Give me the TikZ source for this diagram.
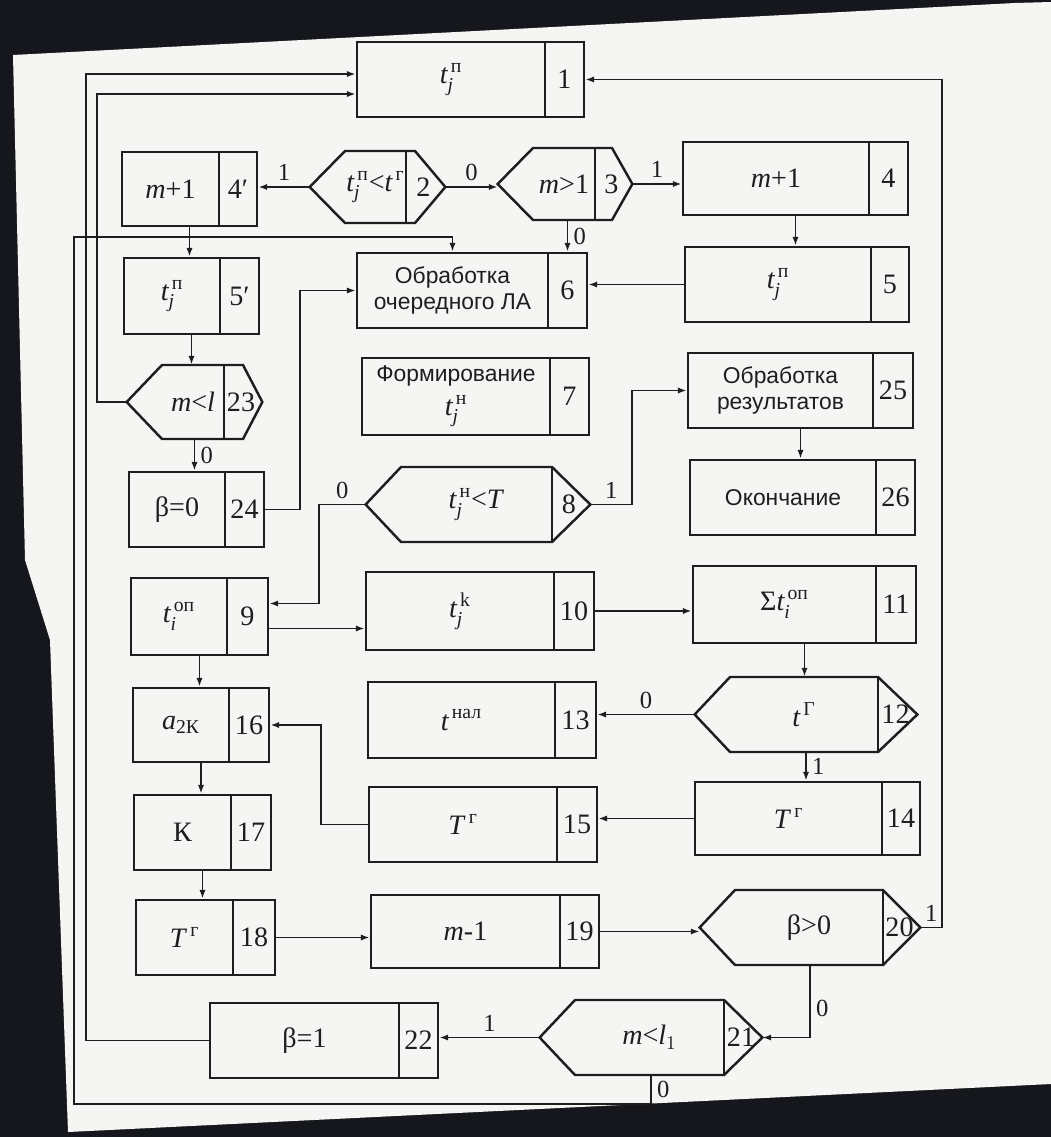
\documentclass[tikz,border=0pt]{standalone}
\usepackage{amsmath}
\usepackage{fontspec}
\setmainfont{Liberation Serif}
\setsansfont{Liberation Sans}
\usetikzlibrary{arrows.meta,fit,calc}

\definecolor{ink}{HTML}{1E1E1E}
\definecolor{paper}{HTML}{F5F5F3}
\definecolor{desk}{HTML}{15171C}

\tikzset{
  blk/.style={draw=ink, line width=1.4pt, inner sep=0pt},
  arr/.style={draw=ink, line width=1.1pt, -{Latex[length=5pt,width=3.5pt]}},
  txt/.style={font=\fontsize{16}{18}\selectfont, text=ink, align=center, inner sep=1pt},
  num/.style={font=\fontsize{16}{18}\selectfont, text=ink, inner sep=1pt},
  lbl/.style={font=\fontsize{14}{16}\selectfont, text=ink, inner sep=3pt},
}

\newcommand\ru{\sffamily\fontsize{13}{15}\selectfont}
\newcommand\tj[1]{$\textit{t}_{\textit{j}}^{\,\text{#1}}$}

% rectangular block: name, x1, y1, x2, y2, divider, text, number
\newcommand\blk[8]{%
  \node[blk, fit={(#2,#3) (#4,#5)}] (#1) {};
  \draw[blk] (#6,#3) -- (#6,#5);
  \node[txt] (#1-t) at ({(#2+#6)/2},{(#3+#5)/2}) {#7};
  \node[num] (#1-n) at ({(#6+#4)/2},{(#3+#5)/2}) {#8};}

% decision block: name, left tip, divider, top right, right tip, top, bottom, text, number
\newcommand\hexa[9]{%
  \node[fit={(#2,#6) (#5,#7)}, inner sep=0pt] (#1) {};
  \draw[blk] (#1.west) -- ({#2+35},#6) -- (#4,#6) -- (#1.east) -- (#4,#7) -- ({#2+35},#7) -- cycle;
  \draw[blk] (#3,#6) -- (#3,#7);
  \node[txt] (#1-t) at ({(#2+35+#3)/2},{(#6+#7)/2}) {#8};
  \node[num] (#1-n) at ({(#3+#5)/2-2},{(#6+#7)/2}) {#9};}

\begin{document}
\begin{tikzpicture}[x=0.2mm, y=-0.2mm]
  \useasboundingbox (0,0) rectangle (1051,1137);
  % photo background
  \fill[desk] (0,0) rectangle (1051,1137);
  \fill[paper] (13,55) -- (1015,3) -- (1051,2) -- (1051,1084) -- (68,1132) -- (50,640) -- (25,560) -- cycle;

  % left column
  \blk{b4p}{122}{152}{257}{226}{219}{\textit{m}+1}{4′}
  \blk{b5p}{124}{258}{259}{334}{220}{\tj{п}}{5′}
  \hexa{h23}{127}{224}{243}{262}{365}{439}{\textit{m}<\textit{l}}{23}
  \blk{b24}{129}{472}{264}{547}{225}{β=0}{24}
  \blk{b9}{131}{578}{268}{655}{227}{$\textit{t}_{\textit{i}}^{\,\text{оп}}$}{9}
  \blk{b16}{133}{688}{269}{762}{229}{\textit{a}$_{\text{2К}}$}{16}
  \blk{b17}{134}{795}{271}{870}{231}{К}{17}
  \blk{b18}{136}{900}{275}{975}{233}{\textit{T}$^{\,\text{г}}$}{18}

  % middle column
  \blk{b1}{357}{42}{584}{117}{545}{\tj{п}}{1}
  \hexa{h2}{310}{406}{415}{445}{151}{223}{\tj{п}<$\textit{t}^{\,\text{г}}$}{2}
  \hexa{h3}{498}{595}{612}{632}{148}{220}{\textit{m}>1}{3}
  \blk{b6}{357}{253}{587}{328}{548}{{\ru Обработка}\\[-3pt]{\ru очередного ЛА}}{6}
  \blk{b7}{362}{358}{589}{435}{550}{{\ru Формирование}\\[1pt]\tj{н}}{7}
  \hexa{h8}{366}{552}{552}{590}{467}{542}{\tj{н}<\textit{T}}{8}
  \blk{b10}{366}{572}{594}{650}{554}{$\textit{t}_{\textit{j}}^{\,\text{k}}$}{10}
  \blk{b13}{368}{682}{596}{758}{555}{$\textit{t}^{\,\text{нал}}$}{13}
  \blk{b15}{369}{787}{597}{862}{557}{\textit{T}$^{\,\text{г}}$}{15}
  \blk{b19}{371}{895}{599}{968}{560}{\textit{m}-1}{19}
  \blk{b22}{210}{1003}{438}{1078}{399}{β=1}{22}
  \hexa{h21}{540}{724}{724}{762}{1000}{1075}{\textit{m}<\textit{l}$_{1}$}{21}

  % right column
  \blk{b4}{683}{142}{908}{215}{869}{\textit{m}+1}{4}
  \blk{b5}{685}{247}{909}{322}{871}{\tj{п}}{5}
  \blk{b25}{688}{353}{913}{428}{873}{{\ru Обработка}\\[-3pt]{\ru результатов}}{25}
  \blk{b26}{690}{460}{915}{535}{876}{{\ru Окончание}}{26}
  \blk{b11}{693}{566}{916}{643}{876}{Σ$\textit{t}_{\textit{i}}^{\,\text{оп}}$}{11}
  \hexa{h12}{695}{878}{878}{917}{677}{752}{$\textit{t}^{\,\text{Г}}$}{12}
  \blk{b14}{695}{782}{920}{855}{882}{\textit{T}$^{\,\text{г}}$}{14}
  \hexa{h20}{700}{883}{883}{920}{890}{965}{β>0}{20}

  % connections, top part
  \draw[arr] (h2.west) -- node[lbl,above] {1} (h2.west -| b4p.east);
  \draw[arr] (h2.east) -- node[lbl,above] {0} (h2.east -| h3.west);
  \draw[arr] (h3.east) -- node[lbl,above] {1} (h3.east -| b4.west);
  \draw[arr] (h3.south -| b6-n) -- node[lbl,right] {0} (b6.north -| b6-n);
  \draw[arr] (b4.south) -- (b4.south |- b5.north);
  \draw[arr] (b5.west) -- (b5.west -| b6.east);
  \draw[arr] (b4p.south) -- (b4p.south |- b5p.north);
  \draw[arr] (b5p.south) -- (b5p.south |- h23.north);
  \draw[arr] (h23.south) -- node[lbl,right] {0} (h23.south |- b24.north);
  \draw[arr] (b24.east) -- ++(35,0) |- (b6.west);

  % connections, middle part
  \draw[arr] (h8.west) -- node[lbl,above] {0} ++(-47,0) |- ($(b9.east)+(0,-13)$);
  \draw[arr] (h8.east) -- node[lbl,above] {1} ++(42,0) |- (b25.west);
  \draw[arr] (b25.south) -- (b25.south |- b26.north);
  \draw[arr] (b9.east) ++(0,12) coordinate (o9) -- (o9 -| b10.west);
  \draw[arr] (b9.south) -- (b9.south |- b16.north);
  \draw[arr] (b10.east) -- (b10.east -| b11.west);
  \draw[arr] (b11.south) -- (b11.south |- h12.north);
  \draw[arr] (h12.west) -- node[lbl,above] {0} (h12.west -| b13.east);
  \draw[arr] (h12.south) -- node[lbl,right] {1} (h12.south |- b14.north);
  \draw[arr] (b14.west) -- (b14.west -| b15.east);
  \draw[arr] (b15.west) -- ++(-47,0) |- (b16.east);
  \draw[arr] (b16.south) -- (b16.south |- b17.north);
  \draw[arr] (b17.south) -- (b17.south |- b18.north);

  % connections, bottom part and return lines
  \draw[arr] (b18.east) -- (b18.east -| b19.west);
  \draw[arr] (b19.east) -- (b19.east -| h20.west);
  \draw[arr] (h20.east) -- node[lbl,above] {1} ++(22,0) |- (b1.east);
  \draw[arr] (h20.south) |- node[lbl,right,pos=0.3] {0} (h21.east);
  \draw[arr] (h21.west) -- node[lbl,above] {1} (h21.west -| b22.east);
  \draw[arr] (h21.south) -- node[lbl,right] {0} ++(0,29) -| (74,237) -| (b6-t |- b6.north);
  \draw[arr] (b22.west) -| (86,74) -- (b1.west |- 0,74);
  \draw[arr] (h23.west) -| (97,94) -- (b1.west |- 0,94);
\end{tikzpicture}
\end{document}
